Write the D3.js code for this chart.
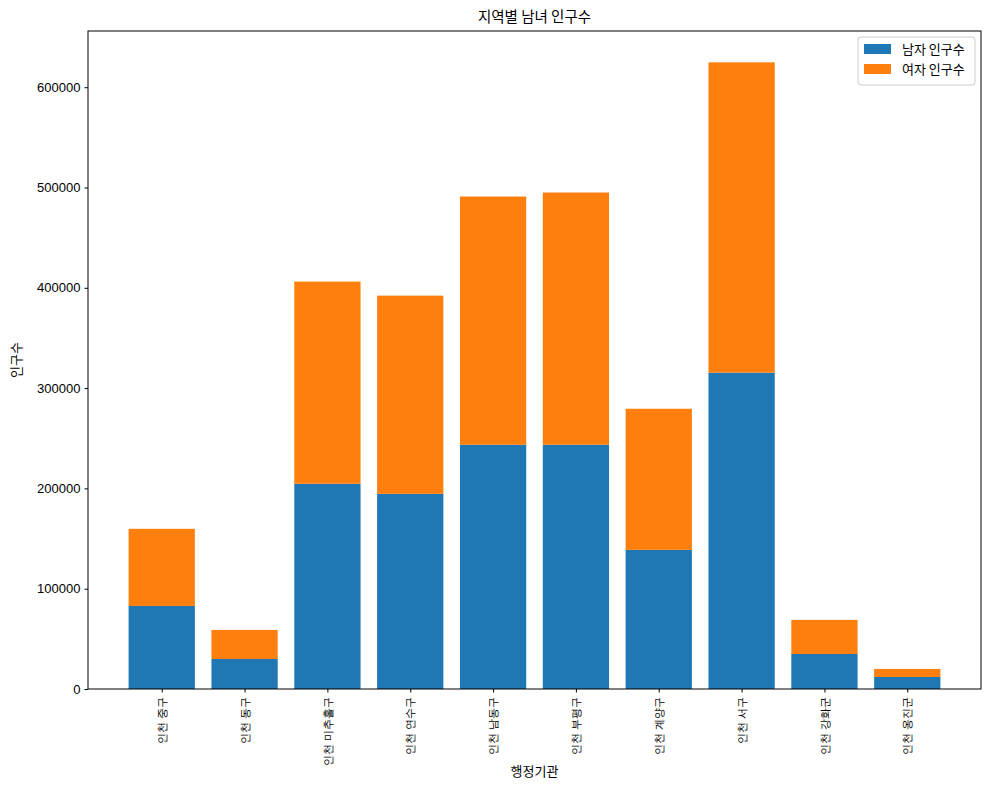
<!DOCTYPE html>
<html>
<head>
<meta charset="utf-8">
<script src="https://cdn.jsdelivr.net/npm/d3@7"></script>
<style>
    body { margin: 0; background: #fff; }
    svg { font-family: "Noto Sans CJK KR", "Noto Sans", sans-serif; }
    .tick text { fill: #000; }
</style>
</head>
<body>
<script>
const regions = ['인천 중구', '인천 동구', '인천 미추홀구', '인천 연수구', '인천 남동구',
                 '인천 부평구', '인천 계양구', '인천 서구', '인천 강화군', '인천 옹진군'];
const male   = [82800, 29900, 204600, 194600, 243500, 243500, 138700, 315400, 34900, 12000];
const female = [76900, 29000, 201600, 197600, 247500, 251500, 140700, 309400, 34000, 8000];
const seriesNames = ['남자 인구수', '여자 인구수'];
const colors = ['#1f77b4', '#ff7f0e'];

const width = 989, height = 790;
const margins = {top: 31, right: 8, bottom: 101, left: 88};
const w = width - margins.left - margins.right,
      h = height - margins.top - margins.bottom;

let svgTop = d3.select('body').append('svg')
    .attr('width', width)
    .attr('height', height);
let svg = svgTop.append('g')
    .attr('transform', `translate(${margins.left},${margins.top})`);

// matplotlib-like: bars of width 0.8 with 5% margins
const n = regions.length;
const xLin = d3.scaleLinear().domain([-0.4 - 0.49, n - 1 + 0.4 + 0.49]).range([0, w]);
const bw = xLin(0.8) - xLin(0);

const totals = male.map((m, i) => m + female[i]);
const yScale = d3.scaleLinear().domain([0, d3.max(totals) * 1.05]).range([h, 0]);

const stacked = d3.stack().keys([0, 1])(regions.map((r, i) => ({0: male[i], 1: female[i]})));

svg.selectAll('g.layer')
    .data(stacked)
    .enter().append('g')
    .classed('layer', true)
    .attr('fill', (d, i) => colors[i])
    .selectAll('rect')
    .data(d => d)
    .enter().append('rect')
    .attr('x', (d, i) => xLin(i) - bw / 2)
    .attr('width', bw)
    .attr('y', d => yScale(d[1]))
    .attr('height', d => yScale(d[0]) - yScale(d[1]));

// y axis
let yAxis = svg.append('g')
    .call(d3.axisLeft(yScale).tickValues(d3.range(0, 600001, 100000)).tickFormat(d3.format('d')).tickSize(3.5).tickPadding(4));
yAxis.selectAll('text').style('font-size', '13px');

// x axis
let xAxis = svg.append('g')
    .attr('transform', `translate(0,${h})`)
    .call(d3.axisBottom(xLin).tickValues(d3.range(n)).tickFormat(i => regions[i]).tickSize(3.5));
xAxis.selectAll('text')
    .style('font-size', '10.5px')
    .attr('transform', 'rotate(-90)')
    .attr('x', -8)
    .attr('y', 0)
    .attr('dy', '0.35em')
    .attr('text-anchor', 'end');

svg.selectAll('.domain').remove();
svg.append('rect')
    .attr('width', w).attr('height', h)
    .attr('fill', 'none').attr('stroke', '#000').attr('stroke-width', 1);

// titles
svgTop.append('text')
    .attr('x', margins.left + w / 2).attr('y', 22)
    .attr('text-anchor', 'middle').style('font-size', '14.5px')
    .text('지역별 남녀 인구수');
svgTop.append('text')
    .attr('x', margins.left + w / 2).attr('y', 776)
    .attr('text-anchor', 'middle').style('font-size', '13px')
    .text('행정기관');
svgTop.append('text')
    .attr('transform', `translate(21,${margins.top + h / 2}) rotate(-90)`)
    .attr('text-anchor', 'middle').style('font-size', '13px')
    .text('인구수');

// legend
let legend = svg.append('g').attr('transform', `translate(${w - 123},6)`);
legend.append('rect')
    .attr('width', 117).attr('height', 48).attr('rx', 3)
    .attr('fill', '#fff').attr('fill-opacity', 0.8)
    .attr('stroke', '#ccc');
seriesNames.forEach((s, i) => {
    legend.append('rect')
        .attr('x', 6).attr('y', 7 + i * 20)
        .attr('width', 27).attr('height', 10)
        .attr('fill', colors[i]);
    legend.append('text')
        .attr('x', 44).attr('y', 12 + i * 20)
        .attr('dy', '0.35em').style('font-size', '13px')
        .text(s);
});
</script>
</body>
</html>
